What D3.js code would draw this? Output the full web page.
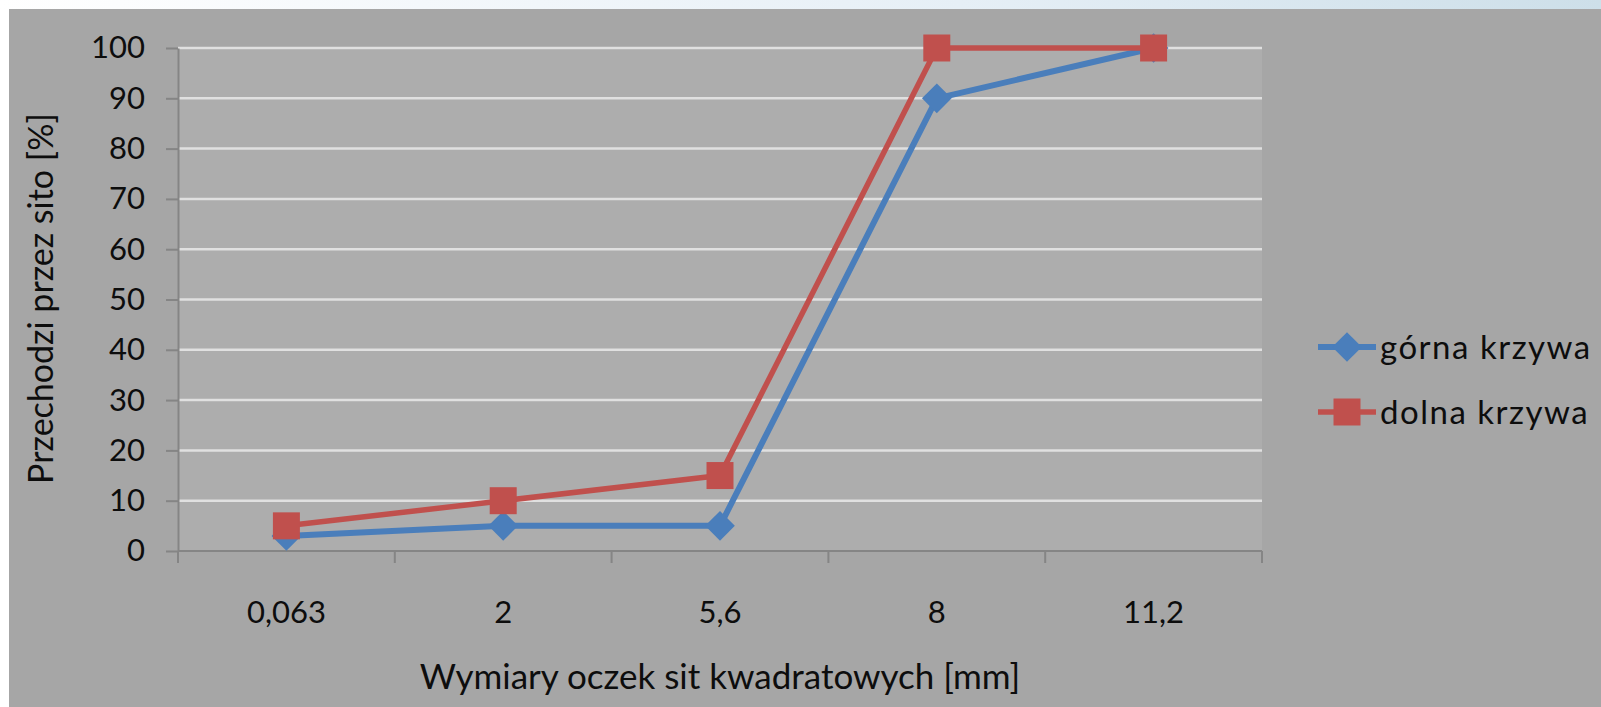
<!DOCTYPE html>
<html>
<head>
<meta charset="utf-8">
<script src="https://cdn.jsdelivr.net/npm/d3@7"></script>
<style>
  html, body { margin: 0; padding: 0; background: #ffffff; overflow: hidden; }
  text { font-family: Lato, "Open Sans", "DejaVu Sans", sans-serif; fill: #0d0d0d; }
</style>
</head>
<body>
<svg id="chart" width="1601" height="707"></svg>
<script>
// Sieve sizes (mm) and passing percentages for the grading envelope
const sieveSizes = ["0,063", "2", "5,6", "8", "11,2"];
const upperCurve = [3, 5, 5, 90, 100];    // górna krzywa
const lowerCurve = [5, 10, 15, 100, 100]; // dolna krzywa
const yTickValues = [0, 10, 20, 30, 40, 50, 60, 70, 80, 90, 100];
const seriesNames = ["górna krzywa", "dolna krzywa"];
const xTitle = "Wymiary oczek sit kwadratowych [mm]";
const yTitle = "Przechodzi przez sito [%]";

const W = 1601, H = 707;
const plot = { left: 178, right: 1262, top: 48, bottom: 551 };

const svg = d3.select("#chart");

// Page frame: light gradient strip on top, white strip on the left, grey chart area
const defs = svg.append("defs");
const grad = defs.append("linearGradient").attr("id", "topStrip")
  .attr("x1", "0").attr("x2", "1").attr("y1", "0").attr("y2", "0");
grad.append("stop").attr("offset", "0").attr("stop-color", "#ffffff");
grad.append("stop").attr("offset", "0.6").attr("stop-color", "#e6eff6");
grad.append("stop").attr("offset", "1").attr("stop-color", "#cddfe9");

svg.append("rect").attr("x", 0).attr("y", 0).attr("width", W).attr("height", H).attr("fill", "#ffffff");
svg.append("rect").attr("x", 0).attr("y", 0).attr("width", W).attr("height", 9).attr("fill", "url(#topStrip)");
svg.append("rect").attr("x", 9).attr("y", 9).attr("width", W - 9).attr("height", H - 9).attr("fill", "#a6a6a6");

// Plot area
svg.append("rect")
  .attr("x", plot.left).attr("y", plot.top)
  .attr("width", plot.right - plot.left).attr("height", plot.bottom - plot.top)
  .attr("fill", "#adadad");

const x = d3.scaleBand().domain(sieveSizes).range([plot.left, plot.right]).paddingInner(0).paddingOuter(0);
const y = d3.scaleLinear().domain([0, 100]).range([plot.bottom, plot.top]);

// Horizontal gridlines
svg.append("g").selectAll("line")
  .data(yTickValues.filter(v => v > 0))
  .join("line")
  .attr("x1", plot.left).attr("x2", plot.right)
  .attr("y1", d => y(d)).attr("y2", d => y(d))
  .attr("stroke", "#e0e0e0").attr("stroke-width", 2.5);

// Y axis
const yAxis = svg.append("g")
  .attr("transform", `translate(${plot.left},0)`)
  .call(d3.axisLeft(y).tickValues(yTickValues).tickSize(12).tickPadding(21).tickSizeOuter(0));
yAxis.select(".domain").attr("stroke", "#858585").attr("stroke-width", 2);
yAxis.selectAll(".tick line").attr("stroke", "#858585").attr("stroke-width", 2);
yAxis.selectAll(".tick text")
  .attr("font-size", 31).attr("font-family", "Lato, sans-serif").attr("fill", "#0d0d0d");

// X axis: ticks between categories
const xAxis = svg.append("g").attr("transform", `translate(0,${plot.bottom})`);
xAxis.append("line")
  .attr("x1", plot.left).attr("x2", plot.right).attr("y1", 0).attr("y2", 0)
  .attr("stroke", "#858585").attr("stroke-width", 2);
const boundaries = sieveSizes.map(s => x(s)).concat([x(sieveSizes[sieveSizes.length - 1]) + x.bandwidth()]);
xAxis.selectAll("line.tick")
  .data(boundaries)
  .join("line").attr("class", "tick")
  .attr("x1", d => d).attr("x2", d => d).attr("y1", 0).attr("y2", 12)
  .attr("stroke", "#858585").attr("stroke-width", 2);
xAxis.selectAll("text.label")
  .data(sieveSizes)
  .join("text").attr("class", "label")
  .attr("x", d => x(d) + x.bandwidth() / 2)
  .attr("y", 72)
  .attr("text-anchor", "middle")
  .attr("font-size", 31)
  .text(d => d);

// Axis titles
svg.append("text")
  .attr("x", (plot.left + plot.right) / 2).attr("y", 689)
  .attr("text-anchor", "middle").attr("font-size", 35)
  .text(xTitle);
svg.append("text")
  .attr("transform", `translate(53,${(plot.top + plot.bottom) / 2 - 1}) rotate(-90)`)
  .attr("text-anchor", "middle").attr("font-size", 34)
  .text(yTitle);

// Series
const series = [
  { name: seriesNames[0], values: upperCurve, color: "#4a7ebb", width: 6, marker: "diamond" },
  { name: seriesNames[1], values: lowerCurve, color: "#c0504d", width: 5.5, marker: "square" }
];

const line = d3.line()
  .x((d, i) => x(sieveSizes[i]) + x.bandwidth() / 2)
  .y(d => y(d));

const squareSym = d3.symbol().type(d3.symbolSquare).size(27 * 27);
const diamondSym = d3.symbol().type(d3.symbolSquare).size(21 * 21);

function drawMarker(g, kind, color, cx, cy) {
  if (kind === "square") {
    g.append("path").attr("d", squareSym())
      .attr("transform", `translate(${cx},${cy})`).attr("fill", color);
  } else {
    g.append("path").attr("d", diamondSym())
      .attr("transform", `translate(${cx},${cy}) rotate(45)`).attr("fill", color);
  }
}

series.forEach(s => {
  const g = svg.append("g");
  g.append("path").datum(s.values)
    .attr("d", line).attr("fill", "none")
    .attr("stroke", s.color).attr("stroke-width", s.width)
    .attr("stroke-linejoin", "round");
  s.values.forEach((v, i) => {
    drawMarker(g, s.marker, s.color, x(sieveSizes[i]) + x.bandwidth() / 2, y(v));
  });
});

// Legend
const legend = svg.append("g");
series.forEach((s, i) => {
  const ly = 347 + i * 65;
  legend.append("line")
    .attr("x1", 1318).attr("x2", 1376).attr("y1", ly).attr("y2", ly)
    .attr("stroke", s.color).attr("stroke-width", s.width);
  drawMarker(legend, s.marker, s.color, 1347, ly);
  legend.append("text")
    .attr("x", 1380).attr("y", ly).attr("dy", "0.35em")
    .attr("font-size", 33)
    .attr("letter-spacing", 1.5)
    .text(s.name);
});
</script>
</body>
</html>
